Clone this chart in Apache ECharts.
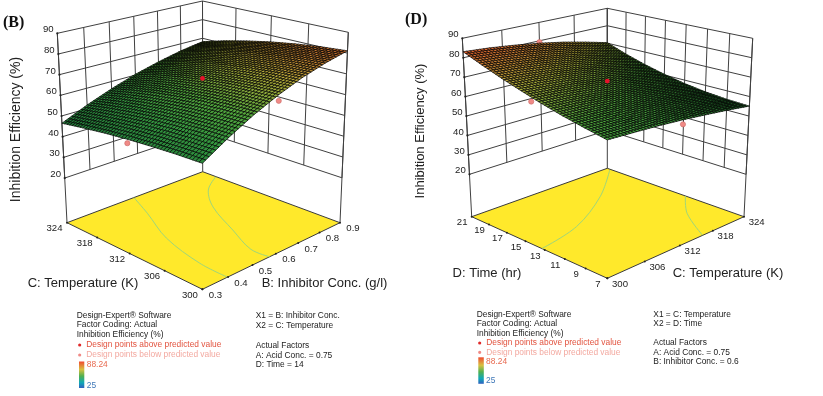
<!DOCTYPE html>
<html><head><meta charset="utf-8">
<style>html,body{margin:0;padding:0;background:#fff}#c{width:823px;height:396px;filter:blur(0.3px)}</style>
<script src="https://cdn.jsdelivr.net/npm/echarts@6/dist/echarts.min.js"></script>
</head><body><div id="c"></div>
<script>
// ---------- data ----------
const zTicks = [20,30,40,50,60,70,80,90];
const concTicksB = [0.3,0.4,0.5,0.6,0.7,0.8,0.9];
const tempTicks = [300,306,312,318,324];
const timeTicks = [7,9,11,13,15,17,19,21];
const concGrid = [0.3,0.4,0.5,0.6,0.7,0.8,0.9];
const tempGrid = [300,304,308,312,316,320,324];
const timeGrid = [7,9,11,13,15,17,19,21];
// rows: temperature, columns: inhibitor conc.
const surfaceB = [
 [51.7,58.8,65.1,70.4,74.9,78.4,81.1],
 [51.5,58.6,64.7,69.9,74.1,77.5,80.1],
 [51.0,57.9,64.0,68.9,72.9,76.1,78.6],
 [50.3,56.9,62.7,67.4,71.3,74.4,76.7],
 [49.3,55.5,61.1,65.5,69.1,72.1,74.3],
 [48.0,53.8,59.0,63.2,66.7,69.4,71.5],
 [46.5,51.8,56.4,60.4,63.6,66.3,68.2]];
// rows: time, columns: temperature
const surfaceD = [
 [61.2,60.7,60.1,59.2,58.0,56.7,55.1],
 [63.4,62.7,61.8,60.6,59.2,57.5,55.6],
 [65.8,65.0,63.9,62.5,60.8,58.8,56.6],
 [68.6,67.7,66.4,64.8,62.9,60.7,58.2],
 [71.8,70.7,69.4,67.6,65.6,63.1,60.4],
 [75.2,74.1,72.7,70.9,68.7,66.1,63.1],
 [79.0,77.9,76.5,74.6,72.3,69.5,66.4],
 [83.1,82.1,80.6,78.7,76.4,73.5,70.3]];
const pointsAboveB = [[0.6,312,68]];
const pointsBelowB = [[0.6,300,67.6],[0.3,312,48.5]];
const pointsAboveD = [[312,14,68]];
const pointsBelowD = [[312,21,79.3],[300,14,68],[312,7,57]];
const contoursB = [
 [[0.578,324],[0.526,319],[0.446,312],[0.402,304.5],[0.398,300]],
 [[0.573,300],[0.57,302.8],[0.628,307.9],[0.708,314.4],[0.797,318.8],[0.9,321.4]]];
const contoursD = [
 [[300,13.3],[307.2,14.3],[316,17.1],[323.8,20.6]],
 [[316.1,7],[319.8,10.3],[324,12.6]]];
const legendLeftB = ['Design-Expert® Software','Factor Coding: Actual','Inhibition Efficiency (%)'];
const legendRightB = ['X1 = B: Inhibitor Conc.','X2 = C: Temperature','','Actual Factors','A: Acid Conc. = 0.75','D: Time = 14'];
const legendRightD = ['X1 = C: Temperature','X2 = D: Time','','Actual Factors','A: Acid Conc. = 0.75','B: Inhibitor Conc. = 0.6'];
const legendAbove = 'Design points above predicted value';
const legendBelow = 'Design points below predicted value';
const legendHigh = '88.24', legendLow = '25';

// ---------- layout ----------
const zFloorB = -1.6, zFloorD = -1.8, zTop = 90;
const panels = [
 {id:'B', xs:concGrid, ys:tempGrid, table:surfaceB, xTicks:concTicksB, yTicks:tempTicks, zFloor:zFloorB,
  fmtX:v=>v.toFixed(1), fmtY:v=>String(v), above:pointsAboveB, below:pointsBelowB, contours:contoursB,
  floor:{f:[202.4,289.3],r:[340,222.7],b:[202.7,171.7],l:[67,222.7]},
  top:{f:[202.4,72.8],r:[348.3,32.3],b:[202.5,1],l:[57.3,33.3]},
  xName:'B: Inhibitor Conc. (g/l)', xNamePos:[324.5,283], yName:'C: Temperature (K)', yNamePos:[83,283],
  zName:'Inhibition Efficiency (%)', zNamePos:[16,129.5], zNameSize:14, title:'(B)', titlePos:[3,23],
  xLab:[13,6], yLab:[-12.5,6], legendX:76.7, legendRX:255.7, legendY:[315.3,325,335,345,355,365,385.5], rightY:[315.3,325.3,335,345.3,355.3,365],
  bar:[79,361.5,5.3,26.5], legendRight:legendRightB, subX:8, subY:8},
 {id:'D', xs:tempGrid, ys:timeGrid, table:surfaceD, xTicks:tempTicks, yTicks:timeTicks, zFloor:zFloorD,
  fmtX:v=>String(v), fmtY:v=>String(v), above:pointsAboveD, below:pointsBelowD, contours:contoursD,
  floor:{f:[607.3,278.3],r:[744,216.7],b:[607.3,168.3],l:[471.7,216.7]},
  top:{f:[607.3,76.7],r:[752.7,38.3],b:[607.3,8.3],l:[462.3,38.3]},
  xName:'C: Temperature (K)', xNamePos:[728,273.3], yName:'D: Time (hr)', yNamePos:[487,273.3],
  zName:'Inhibition Efficiency (%)', zNamePos:[420,131], zNameSize:13, title:'(D)', titlePos:[405,20],
  xLab:[12.7,6], yLab:[-9.5,6], legendX:476.7, legendRX:653.3, legendY:[315,324,333.3,343,352.3,361.7,381], rightY:[315,324,333.5,343,352.3,361.7],
  bar:[478.3,357.3,5.5,26.5], legendRight:legendRightD, subX:8, subY:7}];

function quadMap(p00,p10,p11,p01){
  const dx1=p10[0]-p11[0],dx2=p01[0]-p11[0],sx=p00[0]-p10[0]+p11[0]-p01[0];
  const dy1=p10[1]-p11[1],dy2=p01[1]-p11[1],sy=p00[1]-p10[1]+p11[1]-p01[1];
  const den=dx1*dy2-dx2*dy1, g=(sx*dy2-dx2*sy)/den, h=(dx1*sy-sx*dy1)/den;
  const a=p10[0]-p00[0]+g*p10[0], b=p01[0]-p00[0]+h*p01[0], c=p00[0];
  const d=p10[1]-p00[1]+g*p10[1], e=p01[1]-p00[1]+h*p01[1], f=p00[1];
  return (u,v)=>{const w=g*u+h*v+1;return [(a*u+b*v+c)/w,(d*u+e*v+f)/w];};
}
panels.forEach(p=>{
  const fm=quadMap(p.floor.f,p.floor.r,p.floor.b,p.floor.l), tm=quadMap(p.top.f,p.top.r,p.top.b,p.top.l);
  const x0=p.xs[0],x1=p.xs[p.xs.length-1],y0=p.ys[0],y1=p.ys[p.ys.length-1];
  p.uOf=x=>(x-x0)/(x1-x0); p.vOf=y=>(y-y0)/(y1-y0);
  p.proj=(u,v,z)=>{const t=(z-p.zFloor)/(zTop-p.zFloor),a=fm(u,v),b=tm(u,v);return [a[0]+(b[0]-a[0])*t,a[1]+(b[1]-a[1])*t];};
});

const colorStops=[[0,[0,60,220]],[0.2,[0,180,190]],[0.33,[30,120,56]],[0.5,[52,150,62]],[0.62,[80,165,60]],[0.75,[172,172,58]],[0.88,[218,118,50]],[1,[250,40,30]]];
function colorOf(z){
  const t=Math.max(0,Math.min(1,(z-25)/63.24));
  for(let i=1;i<colorStops.length;i++){ if(t<=colorStops[i][0]){
    const a=colorStops[i-1],b=colorStops[i],f=(t-a[0])/(b[0]-a[0]);
    return 'rgb('+a[1].map((c,k)=>Math.round(c+(b[1][k]-c)*f)).join(',')+')';}}
  return 'rgb(250,40,30)';
}
const LINE='#404040', TXT='#222', FONT='"Liberation Sans",Arial,sans-serif';
const cartesian={coordinateSystem:'cartesian2d',silent:true,clip:false,animation:false};

function polySeries(p,lines,z2){
  return Object.assign({type:'custom',name:p.id+' lines',z:z2,data:lines.map((_,i)=>[i,0]),
    renderItem(params,api){
      const l=lines[params.dataIndex];
      const pts=l.pts.map(q=>api.coord(q));
      return {type:'polyline',shape:{points:pts,smooth:l.smooth||0},style:{stroke:l.color||LINE,lineWidth:l.w||1,fill:null}};
    }},cartesian);
}
function dotSeries(p,pts,z2){
  return Object.assign({type:'custom',name:p.id+' dots',z:z2,data:pts.map((_,i)=>[i,0]),
    renderItem(params,api){
      const d=pts[params.dataIndex], c=api.coord(d.pos);
      return {type:'circle',shape:{cx:c[0],cy:c[1],r:d.r},style:{fill:d.fill,stroke:d.stroke||null,lineWidth:d.stroke?0.6:0}};
    }},cartesian);
}
function textSeries(p,items,z2){
  return Object.assign({type:'custom',name:p.id+' labels',z:z2,data:items.map((_,i)=>[i,0]),
    renderItem(params,api){
      const d=items[params.dataIndex], c=api.coord(d.pos);
      return {type:'text',x:c[0]+(d.dx||0),y:c[1]+(d.dy||0),rotation:d.rot||0,
        style:{text:d.text,font:d.font,fill:d.fill||TXT,align:d.align||'center',verticalAlign:'middle'}};
    }},cartesian);
}
function surfaceSeries(p){
  const nx=p.xs.length-1, ny=p.ys.length-1, cells=[];
  for(let j=ny-1;j>=0;j--) for(let i=nx-1;i>=0;i--) cells.push([i,j]);
  return Object.assign({type:'custom',name:p.id+' surface',z:5,data:cells,
    renderItem(params,api){
      const i=api.value(0), j=api.value(1), t=p.table;
      const a=t[j][i], b=t[j][i+1], c=t[j+1][i], d=t[j+1][i+1];
      const children=[], sx=p.subX, sy=p.subY;
      const zAt=(s,r)=>a*(1-s)*(1-r)+b*s*(1-r)+c*(1-s)*r+d*s*r;
      const pt=(s,r)=>api.coord(p.proj((i+s)/nx,(j+r)/ny,zAt(s,r)));
      for(let m=sy-1;m>=0;m--) for(let n=sx-1;n>=0;n--){
        const s0=n/sx,s1=(n+1)/sx,r0=m/sy,r1=(m+1)/sy;
        children.push({type:'polygon',shape:{points:[pt(s0,r0),pt(s1,r0),pt(s1,r1),pt(s0,r1)]},
          style:{fill:colorOf(zAt((s0+s1)/2,(r0+r1)/2)),stroke:'rgba(0,0,0,0.8)',lineWidth:0.85}});
      }
      return {type:'group',children};
    }},cartesian);
}

const series=[];
panels.forEach(p=>{
  const U=p.uOf,V=p.vOf,P=p.proj,F=p.zFloor;
  const xT=p.xTicks,yT=p.yTicks;
  // walls
  const walls=[];
  zTicks.forEach(z=>walls.push({pts:[P(0,1,z),P(1,1,z),P(1,0,z)]}));
  xT.forEach(x=>{const u=U(x);walls.push({pts:[P(u,1,20),P(u,1,zTop)]});});
  yT.forEach(y=>{const v=V(y);walls.push({pts:[P(1,v,20),P(1,v,zTop)]});});
  walls.push({pts:[P(0,1,F),P(0,1,zTop)]},{pts:[P(1,1,F),P(1,1,zTop)]},{pts:[P(1,0,F),P(1,0,zTop)]});
  series.push(polySeries(p,walls,2));
  // floor
  series.push(Object.assign({type:'custom',name:p.id+' floor',z:3,data:[[0,0]],
    renderItem(params,api){
      return {type:'polygon',shape:{points:[P(0,0,F),P(1,0,F),P(1,1,F),P(0,1,F)].map(q=>api.coord(q))},
        style:{fill:'#FFE92B',stroke:'#3a3a3a',lineWidth:1}};
    }},cartesian));
  const contourLines=p.contours.map(c=>({pts:c.map(q=>P(U(q[0]),V(q[1]),F)),smooth:0.35,color:'#9FD67A',w:1}));
  series.push(polySeries(p,contourLines,4));
  // ticks
  const tickDots=[];
  zTicks.forEach(z=>tickDots.push({pos:P(0,1,z),r:1.1,fill:'#222'}));
  xT.forEach(x=>tickDots.push({pos:P(U(x),0,F),r:1,fill:'#222'}));
  yT.forEach(y=>tickDots.push({pos:P(0,V(y),F),r:1,fill:'#222'}));
  series.push(dotSeries(p,tickDots,4));
  // points behind, surface, points in front
  series.push(dotSeries(p,p.below.map(q=>({pos:P(U(q[0]),V(q[1]),q[2]),r:2.6,fill:'#F08A86',stroke:'#c96a66'})),4));
  series.push(surfaceSeries(p));
  series.push(dotSeries(p,p.above.map(q=>({pos:P(U(q[0]),V(q[1]),q[2]),r:2.4,fill:'#E8102A'})),6));
  // text
  const tick=size=>size+'px '+FONT;
  const labels=[];
  zTicks.forEach(z=>labels.push({pos:P(0,1,z),dx:-3.7,dy:-3.6,text:String(z),font:tick(9.6),align:'right'}));
  xT.forEach(x=>labels.push({pos:P(U(x),0,F),dx:p.xLab[0],dy:p.xLab[1],text:p.fmtX(x),font:tick(9.6)}));
  yT.forEach(y=>labels.push({pos:P(0,V(y),F),dx:p.yLab[0],dy:p.yLab[1],text:p.fmtY(y),font:tick(9.6)}));
  labels.push({pos:p.xNamePos,text:p.xName,font:tick(13)});
  labels.push({pos:p.yNamePos,text:p.yName,font:tick(13)});
  labels.push({pos:p.zNamePos,text:p.zName,font:tick(p.zNameSize),rot:Math.PI/2});
  labels.push({pos:p.titlePos,text:p.title,font:'bold 16px "Liberation Serif",serif',align:'left',fill:'#111'});
  const lf=tick(8.4), ly=p.legendY, rx=p.legendRX;
  legendLeftB.forEach((t,i)=>labels.push({pos:[p.legendX,ly[i]],text:t,font:lf,align:'left'}));
  labels.push({pos:[p.legendX+9.6,ly[3]],text:legendAbove,font:lf,align:'left',fill:'#E2533F'});
  labels.push({pos:[p.legendX+9.6,ly[4]],text:legendBelow,font:lf,align:'left',fill:'#F3A9A0'});
  labels.push({pos:[p.bar[0]+7.8,ly[5]],text:legendHigh,font:lf,align:'left',fill:'#E86A50'});
  labels.push({pos:[p.bar[0]+7.8,ly[6]],text:legendLow,font:lf,align:'left',fill:'#3F78B8'});
  p.legendRight.forEach((t,i)=>{ if(t) labels.push({pos:[rx,p.rightY[i]],text:t,font:lf,align:'left'}); });
  series.push(textSeries(p,labels,8));
  series.push(dotSeries(p,[{pos:[p.legendX+3,ly[3]],r:1.6,fill:'#E02A2A'},{pos:[p.legendX+3,ly[4]],r:1.6,fill:'#F08A86'}],8));
  series.push(Object.assign({type:'custom',name:p.id+' colour bar',z:8,data:[[0,0]],
    renderItem(params,api){
      const a=api.coord([p.bar[0],p.bar[1]]);
      return {type:'rect',shape:{x:a[0],y:a[1],width:p.bar[2],height:p.bar[3]},
        style:{fill:new echarts.graphic.LinearGradient(0,0,0,1,[
          {offset:0,color:'#F04A30'},{offset:.3,color:'#D8C040'},{offset:.55,color:'#50B050'},{offset:.8,color:'#10A8B8'},{offset:1,color:'#3060C0'}])}};
    }},cartesian));
});

const chart=echarts.init(document.getElementById('c'),null,{renderer:'canvas'});
chart.setOption({animation:false,backgroundColor:'#fff',
  grid:{left:0,right:0,top:0,bottom:0},
  xAxis:{type:'value',min:0,max:823,show:false},
  yAxis:{type:'value',min:0,max:396,inverse:true,show:false},
  series});
</script></body></html>
